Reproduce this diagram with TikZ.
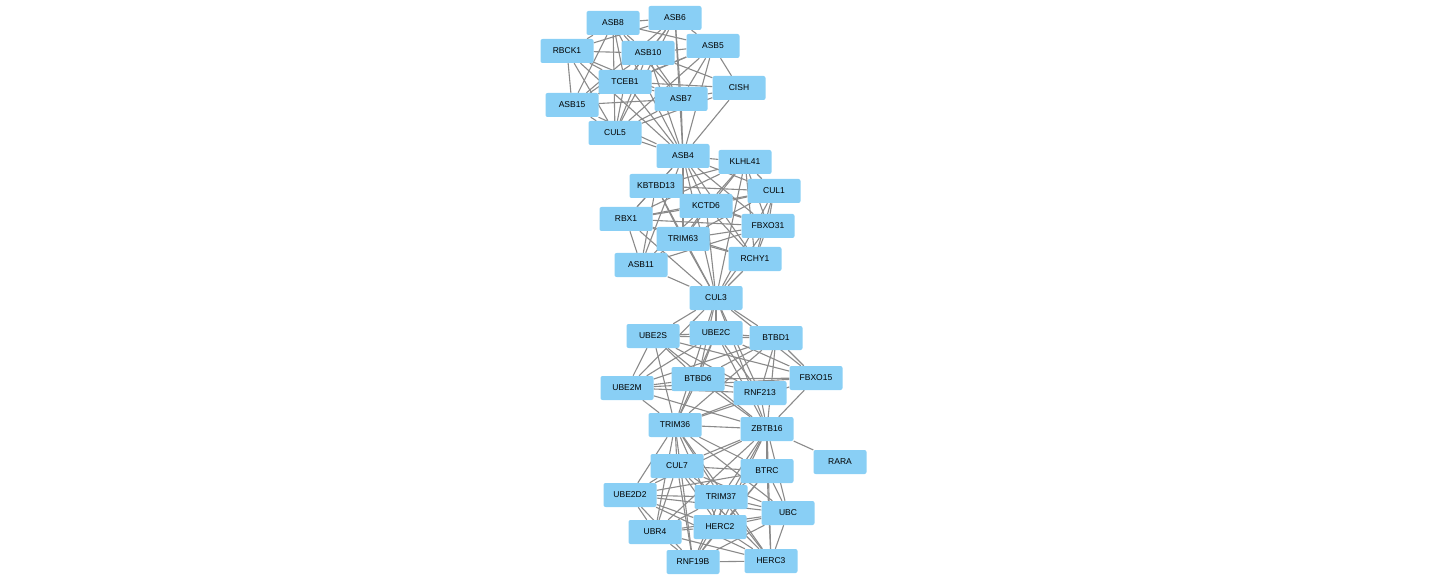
\documentclass[tikz,border=0pt]{standalone}
\usepackage{fontspec}
\setmainfont{Liberation Sans}
\usepackage{tikz}
\usetikzlibrary{backgrounds}
\definecolor{protfill}{HTML}{89CFF5}
\definecolor{linkgray}{HTML}{8A8A8A}

\begin{document}
\begin{tikzpicture}[
  x=1pt, y=-1pt,
  prot/.style={fill=protfill, rounded corners=2pt, inner sep=0pt,
               minimum width=53pt, minimum height=24pt,
               font=\fontsize{8.5}{9}\selectfont},
  link/.style={draw=linkgray, line width=1.1pt}
]
\useasboundingbox (0,0) rectangle (1431,585);

% top cluster
\node[prot] (asb8) at (613,23) {ASB8};
\node[prot] (asb6) at (675,18) {ASB6};
\node[prot] (rbck1) at (567,51) {RBCK1};
\node[prot] (asb10) at (648,53) {ASB10};
\node[prot] (asb5) at (713,46) {ASB5};
\node[prot] (tceb1) at (625,82) {TCEB1};
\node[prot] (cish) at (739,88) {CISH};
\node[prot] (asb15) at (572,105) {ASB15};
\node[prot] (asb7) at (681,99) {ASB7};
\node[prot] (cul5) at (615,133) {CUL5};
\node[prot] (asb4) at (683,156) {ASB4};

% second cluster
\node[prot] (klhl41) at (745,162) {KLHL41};
\node[prot] (kbtbd13) at (656,186) {KBTBD13};
\node[prot] (cul1) at (774,191) {CUL1};
\node[prot] (kctd6) at (706,206) {KCTD6};
\node[prot] (rbx1) at (626,219) {RBX1};
\node[prot] (fbxo31) at (768,226) {FBXO31};
\node[prot] (trim63) at (683,239) {TRIM63};
\node[prot] (rchy1) at (755,259) {RCHY1};
\node[prot] (asb11) at (641,265) {ASB11};
\node[prot] (cul3) at (716,298) {CUL3};

% third cluster
\node[prot] (ube2s) at (653,336) {UBE2S};
\node[prot] (ube2c) at (716,333) {UBE2C};
\node[prot] (btbd1) at (776,338) {BTBD1};
\node[prot] (ube2m) at (627,388) {UBE2M};
\node[prot] (btbd6) at (698,379) {BTBD6};
\node[prot] (fbxo15) at (816,378) {FBXO15};
\node[prot] (rnf213) at (760,393) {RNF213};
\node[prot] (trim36) at (675,425) {TRIM36};
\node[prot] (zbtb16) at (767,429) {ZBTB16};
\node[prot] (rara) at (840,462) {RARA};

% bottom cluster
\node[prot] (cul7) at (677,466) {CUL7};
\node[prot] (btrc) at (767,471) {BTRC};
\node[prot] (ube2d2) at (630,495) {UBE2D2};
\node[prot] (trim37) at (721,497) {TRIM37};
\node[prot] (ubc) at (788,513) {UBC};
\node[prot] (ubr4) at (655,532) {UBR4};
\node[prot] (herc2) at (720,527) {HERC2};
\node[prot] (rnf19b) at (693,562) {RNF19B};
\node[prot] (herc3) at (771,561) {HERC3};

\begin{scope}[on background layer]
\path[link] (asb4) edge (asb8) edge (asb6) edge (rbck1) edge (asb10) edge (asb5)
  edge (tceb1) edge (cish) edge (asb15) edge (asb7) edge (cul5);
\path[link] (cul5) edge (asb8) edge (asb6) edge (rbck1) edge (asb10) edge (asb5)
  edge (tceb1) edge (asb15) edge (asb7) edge (cish);
\path[link] (tceb1) edge (asb8) edge (asb6) edge (rbck1) edge (asb10) edge (asb5)
  edge (asb15) edge (asb7) edge (cish);
\path[link] (asb8) edge (asb6) edge (asb10) edge (rbck1) edge (asb5) edge (asb15) edge (asb7);
\path[link] (asb6) edge (asb10) edge (asb5) edge (asb7) edge (rbck1) edge (asb15);
\path[link] (asb10) edge (rbck1) edge (asb5) edge (asb7) edge (asb15) edge (cish);
\path[link] (asb5) edge (asb7) edge (cish) edge (asb15);
\path[link] (rbck1) edge (asb15) edge (asb7);
\path[link] (asb7) edge (cish) edge (asb15);

\path[link] (asb4) edge (klhl41) edge (kbtbd13) edge (cul1) edge (kctd6) edge (rbx1)
  edge (fbxo31) edge (trim63) edge (rchy1) edge (asb11) edge (cul3);
\path[link] (cul3) edge (klhl41) edge (kbtbd13) edge (cul1) edge (kctd6) edge (rbx1)
  edge (fbxo31) edge (trim63) edge (rchy1) edge (asb11);
\path[link] (rbx1) edge (klhl41) edge (kbtbd13) edge (cul1) edge (kctd6) edge (fbxo31)
  edge (trim63) edge (rchy1) edge (asb11);
\path[link] (klhl41) edge (kbtbd13) edge (cul1) edge (kctd6) edge (fbxo31) edge (trim63) edge (rchy1);
\path[link] (kbtbd13) edge (kctd6) edge (cul1) edge (trim63) edge (fbxo31) edge (asb11);
\path[link] (kctd6) edge (cul1) edge (fbxo31) edge (trim63) edge (rchy1) edge (asb11);
\path[link] (cul1) edge (fbxo31) edge (trim63) edge (rchy1);
\path[link] (fbxo31) edge (trim63) edge (rchy1) edge (asb11);
\path[link] (trim63) edge (rchy1) edge (asb11);

\path[link] (cul3) edge (ube2s) edge (ube2c) edge (btbd1) edge (ube2m) edge (btbd6)
  edge (rnf213) edge (fbxo15) edge (trim36) edge (zbtb16);
\path[link] (ube2s) edge (ube2c) edge (btbd1) edge (ube2m) edge (btbd6) edge (rnf213)
  edge (fbxo15) edge (trim36) edge (zbtb16);
\path[link] (ube2c) edge (btbd1) edge (ube2m) edge (btbd6) edge (rnf213) edge (fbxo15)
  edge (trim36) edge (zbtb16);
\path[link] (btbd1) edge (ube2m) edge (btbd6) edge (rnf213) edge (fbxo15) edge (trim36) edge (zbtb16);
\path[link] (ube2m) edge (btbd6) edge (rnf213) edge (fbxo15) edge (trim36) edge (zbtb16);
\path[link] (btbd6) edge (fbxo15) edge (rnf213) edge (trim36) edge (zbtb16);
\path[link] (rnf213) edge (trim36) edge (zbtb16);
\path[link] (fbxo15) edge (zbtb16) edge (trim36);
\path[link] (zbtb16) edge (trim36) edge (rara);

\path[link] (trim36) edge (cul7) edge (btrc) edge (ube2d2) edge (trim37) edge (ubc)
  edge (ubr4) edge (herc2) edge (rnf19b) edge (herc3);
\path[link] (zbtb16) edge (cul7) edge (btrc) edge (ube2d2) edge (trim37) edge (ubc)
  edge (ubr4) edge (herc2) edge (rnf19b) edge (herc3);
\path[link] (cul7) edge (btrc) edge (ube2d2) edge (trim37) edge (ubc) edge (ubr4)
  edge (herc2) edge (rnf19b) edge (herc3);
\path[link] (btrc) edge (ube2d2) edge (trim37) edge (ubc) edge (herc2) edge (rnf19b) edge (herc3);
\path[link] (ube2d2) edge (trim37) edge (ubc) edge (ubr4) edge (herc2) edge (rnf19b) edge (herc3);
\path[link] (trim37) edge (ubc) edge (ubr4) edge (herc2) edge (rnf19b) edge (herc3);
\path[link] (ubc) edge (ubr4) edge (herc2) edge (rnf19b) edge (herc3);
\path[link] (ubr4) edge (herc2) edge (rnf19b) edge (herc3);
\path[link] (herc2) edge (rnf19b) edge (herc3);
\path[link] (rnf19b) edge (herc3);
\end{scope}
\end{tikzpicture}
\end{document}
